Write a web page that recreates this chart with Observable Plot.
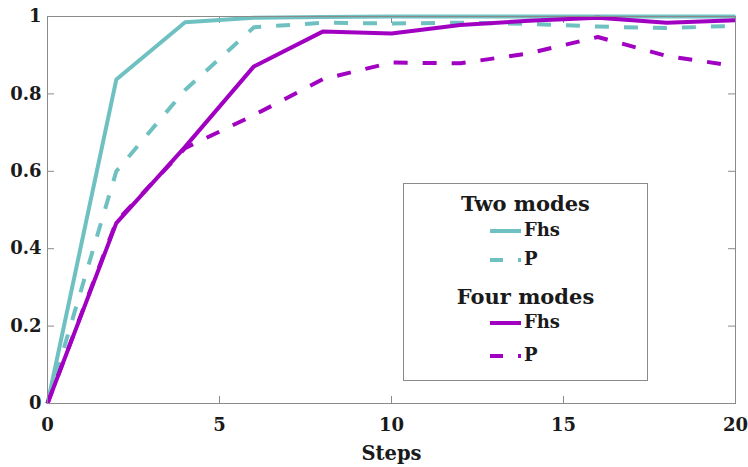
<!DOCTYPE html>
<html>
<head>
<meta charset="utf-8">
<script src="https://cdn.jsdelivr.net/npm/d3@7"></script>
<script src="https://cdn.jsdelivr.net/npm/@observablehq/plot@0.6"></script>
<style>
  html, body { margin: 0; padding: 0; background: #fff; }
  #wrap { position: relative; width: 748px; height: 467px; font-family: "DejaVu Serif", serif; font-weight: bold; color: #1a1a1a; }
  #legend { position: absolute; left: 403px; top: 183px; width: 243px; height: 196px; border: 1px solid #8a8a8a; background: #fff; }
  .hdr { position: absolute; left: 0; width: 100%; text-align: center; font-size: 21px; line-height: 22px; }
  .ent { position: absolute; left: 86px; height: 20px; }
  .ent svg { position: absolute; left: 0; top: 8px; }
  .ent span { position: absolute; left: 34px; top: 0; font-size: 18px; line-height: 20px; }
</style>
</head>
<body>
<div id="wrap"></div>
<script>
// ---- data ----
const steps   = [0, 2, 4, 6, 8, 10, 12, 14, 16, 18, 20];
const twoFhs  = [0, 0.837, 0.985, 0.997, 0.999, 1.0, 1.0, 1.0, 1.0, 1.0, 1.0];
const twoP    = [0, 0.600, 0.810, 0.972, 0.984, 0.982, 0.984, 0.981, 0.974, 0.970, 0.976];
const fourFhs = [0, 0.466, 0.663, 0.871, 0.961, 0.956, 0.978, 0.989, 0.997, 0.984, 0.990];
const fourP   = [0, 0.470, 0.660, 0.745, 0.838, 0.881, 0.879, 0.905, 0.947, 0.898, 0.872];
const xticks = [0, 5, 10, 15, 20];
const yticks = [0, 0.2, 0.4, 0.6, 0.8, 1];
const ytickLabels = ["0", "0.2", "0.4", "0.6", "0.8", "1"];
const groups = ["Two modes", "Four modes"];
const seriesNames = ["Fhs", "P"];

const teal = "#6fc1c1";
const purple = "#a100c2";
const gray = "#8a8a8a";

const W = 748, H = 467, mL = 47, mR = 13, mT = 16, mB = 64;
const fw = W - mL - mR, fh = H - mT - mB;
const tick = 7;

const series = [
  {vals: twoFhs, color: teal, dash: null},
  {vals: twoP, color: teal, dash: "14,15"},
  {vals: fourFhs, color: purple, dash: null},
  {vals: fourP, color: purple, dash: "14,15"}
];

const lineMarks = series.map(s => Plot.line(steps.map((x, i) => ({x, y: s.vals[i]})), {
  x: "x", y: "y", stroke: s.color, strokeWidth: 4, strokeDasharray: s.dash,
  strokeLinejoin: "round", strokeLinecap: "butt"
}));

const innerX = xticks.slice(1, -1), innerY = yticks.slice(1, -1);

const chart = Plot.plot({
  width: W, height: H,
  marginLeft: mL, marginRight: mR, marginTop: mT, marginBottom: mB,
  style: {fontFamily: "DejaVu Serif", fontWeight: "bold", fontSize: "18px", color: "#1a1a1a", background: "#fff"},
  x: {domain: [0, 20]},
  y: {domain: [0, 1]},
  marks: [
    Plot.tickX(innerX, {x: d => d, insetTop: fh - tick, stroke: gray}),
    Plot.tickX(innerX, {x: d => d, insetBottom: fh - tick, stroke: gray}),
    Plot.tickY(innerY, {y: d => d, insetRight: fw - tick, stroke: gray}),
    Plot.tickY(innerY, {y: d => d, insetLeft: fw - tick, stroke: gray}),
    ...lineMarks,
    Plot.frame({stroke: gray}),
    Plot.axisX({ticks: xticks, tickSize: 0, tickPadding: 15, label: null, fontSize: 18, tickFormat: d => String(d)}),
    Plot.axisY({ticks: yticks, tickSize: 0, tickPadding: 6, label: null, fontSize: 18, tickFormat: (d, i) => ytickLabels[i]}),
    Plot.text(["Steps"], {frameAnchor: "bottom", dy: 50, text: d => d, fontSize: 19.5, lineAnchor: "middle"})
  ]
});

const wrap = document.getElementById("wrap");
wrap.appendChild(chart);

// ---- legend ----
const legend = document.createElement("div");
legend.id = "legend";
function swatch(color, dash) {
  return `<svg width="32" height="6"><line x1="0" x2="31" y1="3" y2="3" stroke="${color}" stroke-width="4" ${dash ? `stroke-dasharray="${dash}"` : ""}/></svg>`;
}
const rows = [
  {type: "hdr", text: groups[0], top: 9},
  {type: "ent", text: seriesNames[0], color: teal, dash: null, top: 36},
  {type: "ent", text: seriesNames[1], color: teal, dash: "13,15", top: 65},
  {type: "hdr", text: groups[1], top: 102},
  {type: "ent", text: seriesNames[0], color: purple, dash: null, top: 128},
  {type: "ent", text: seriesNames[1], color: purple, dash: "13,15", top: 161}
];
legend.innerHTML = rows.map(r => r.type === "hdr"
  ? `<div class="hdr" style="top:${r.top}px">${r.text}</div>`
  : `<div class="ent" style="top:${r.top}px">${swatch(r.color, r.dash)}<span>${r.text}</span></div>`
).join("");
wrap.appendChild(legend);
</script>
</body>
</html>
